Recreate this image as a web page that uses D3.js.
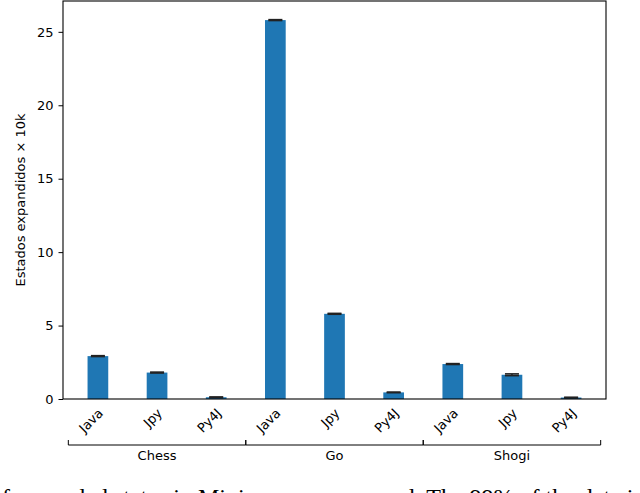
<!DOCTYPE html>
<html><head><meta charset="utf-8">
<script src="https://cdn.jsdelivr.net/npm/d3@7"></script>
<style>body{margin:0;background:#fff}svg{display:block}</style>
</head><body>
<svg id="chart" width="640" height="493"></svg>
<script>
const groups = ["Chess", "Go", "Shogi"];
const impls = ["Java", "Jpy", "Py4J"];
const chessValues = [2.92, 1.80, 0.12];
const goValues = [25.8, 5.80, 0.45];
const shogiValues = [2.38, 1.65, 0.10];
const chessErr = [0.03, 0.03, 0.02];
const goErr = [0.03, 0.03, 0.02];
const shogiErr = [0.03, 0.06, 0.02];
const yTicks = [0, 5, 10, 15, 20, 25];
const yLabel = "Estados expandidos × 10k";
const captionParts = ["of expanded states in Minimax", "ed. The 99% of the data is"];

const groupValues = [chessValues, goValues, shogiValues];
const groupErr = [chessErr, goErr, shogiErr];
const data = [];
groups.forEach((g, gi) => impls.forEach((m, mi) => data.push({
  group: g, impl: m, idx: gi * impls.length + mi,
  value: groupValues[gi][mi], err: groupErr[gi][mi]
})));

const svg = d3.select("#chart");
const mLeft = 63, mRight = 606, mTop = 1, mBottom = 399;
const x = d3.scaleLinear().domain([-0.59, data.length - 1 + 0.59]).range([mLeft, mRight]);
const y = d3.scaleLinear().domain([0, 27.1]).range([mBottom, mTop]);
const barW = x(0.35) - x(0);
const font = "DejaVu Sans, sans-serif";

// bars
svg.append("g").selectAll("rect").data(data).join("rect")
  .attr("x", d => x(d.idx) - barW / 2)
  .attr("y", d => y(d.value))
  .attr("width", barW)
  .attr("height", d => y(0) - y(d.value))
  .attr("fill", "#1f77b4");

// error bars
const eb = svg.append("g").attr("stroke", "#222");
eb.selectAll("line.v").data(data).join("line").attr("class", "v")
  .attr("x1", d => x(d.idx)).attr("x2", d => x(d.idx))
  .attr("y1", d => y(d.value - d.err)).attr("y2", d => y(d.value + d.err))
  .attr("stroke-width", 1.5);
["up", "lo"].forEach(k => {
  eb.selectAll("line." + k).data(data).join("line").attr("class", k)
    .attr("x1", d => x(d.idx) - 7).attr("x2", d => x(d.idx) + 7)
    .attr("y1", d => y(k === "up" ? d.value + d.err : d.value - d.err))
    .attr("y2", d => y(k === "up" ? d.value + d.err : d.value - d.err))
    .attr("stroke-width", 1.6);
});

// y axis
const yAxis = svg.append("g").attr("transform", `translate(${mLeft},0)`)
  .call(d3.axisLeft(y).tickValues(yTicks).tickSize(4.5).tickPadding(5));
yAxis.select(".domain").remove();
yAxis.selectAll("text").attr("font-family", font).attr("font-size", 13).attr("fill", "#000");
yAxis.selectAll("line").attr("stroke", "#000").attr("stroke-width", 1);

// frame
svg.append("rect").attr("x", mLeft).attr("y", mTop).attr("width", mRight - mLeft).attr("height", mBottom - mTop)
  .attr("fill", "none").attr("stroke", "#000").attr("stroke-width", 1.1);

// x tick labels
svg.append("g").selectAll("text").data(data).join("text")
  .attr("transform", d => `translate(${x(d.idx) + 6},${mBottom + 15}) rotate(-45)`)
  .attr("text-anchor", "end")
  .attr("font-family", font).attr("font-size", 13)
  .text(d => d.impl);

// group brackets
const gb = svg.append("g").attr("stroke", "#000").attr("fill", "none").attr("stroke-width", 1);
groups.forEach((g, gi) => {
  const a = x(gi * 3 - 0.5), b = x(gi * 3 + 2.5);
  gb.append("path").attr("d", `M${a},440V445H${b}V440`);
  svg.append("text").attr("x", (a + b) / 2).attr("y", 460)
    .attr("text-anchor", "middle").attr("font-family", font).attr("font-size", 13).text(g);
});

// y label
svg.append("text").attr("transform", `translate(25,${(mTop + mBottom) / 2}) rotate(-90)`)
  .attr("text-anchor", "middle").attr("font-family", font).attr("font-size", 13).text(yLabel);

// cut-off caption (only its top is visible in the reference)
svg.append("text").attr("x", -10).attr("y", 505)
  .attr("font-family", "Liberation Serif, serif").attr("font-size", 24).text(captionParts[0]);
svg.append("text").attr("x", 392).attr("y", 505)
  .attr("font-family", "Liberation Serif, serif").attr("font-size", 24).text(captionParts[1]);
</script>
</body></html>
